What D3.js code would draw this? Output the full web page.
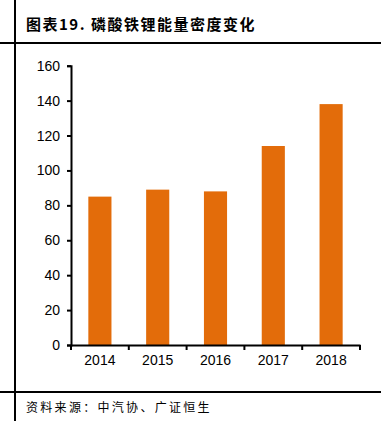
<!DOCTYPE html>
<html><head><meta charset="utf-8">
<script src="https://cdn.jsdelivr.net/npm/d3@7"></script>
<style>body{margin:0;background:#fff}svg{display:block}</style>
</head><body><svg id="c" width="387" height="426"></svg>
<script>
const categories = ["2014","2015","2016","2017","2018"];
const values = [85, 89, 88, 114, 138];
const yTicks = [0,20,40,60,80,100,120,140,160];
const title = "图表19.  磷酸铁锂能量密度变化";
const source = "资料来源：中汽协、广证恒生";

(function(){
const svg = d3.select("#c");
const mL = 71, mR = 360, mT = 65.7, mB = 345;
const x = d3.scaleBand().domain(categories).range([mL, mR]).paddingInner(0.6).paddingOuter(0.3);
const y = d3.scaleLinear().domain([0,160]).range([mB, mT]);

// frame lines
svg.append("line").attr("x1",15).attr("x2",15).attr("y1",0).attr("y2",421).attr("stroke","#000").attr("stroke-width",2);
svg.append("line").attr("x1",0).attr("x2",381).attr("y1",43).attr("y2",43).attr("stroke","#000").attr("stroke-width",2);
svg.append("line").attr("x1",0).attr("x2",381).attr("y1",392).attr("y2",392).attr("stroke","#000").attr("stroke-width",2);

svg.append("text").attr("x",26).attr("y",30).text(title)
  .attr("font-family","'Noto Sans CJK SC'").attr("font-weight","bold").attr("font-size",15).attr("letter-spacing",1.5).attr("fill","#000");
svg.append("text").attr("x",26).attr("y",412).text(source)
  .attr("font-family","'Noto Sans CJK SC'").attr("font-size",12).attr("letter-spacing",2.3).attr("fill","#000");

// bars
svg.selectAll("rect.bar").data(values).join("rect").attr("class","bar")
  .attr("x",(d,i)=>x(categories[i])).attr("width",x.bandwidth())
  .attr("y",d=>y(d)).attr("height",d=>mB-y(d)).attr("fill","#E36C0A");

// y axis
const ya = svg.append("g").attr("transform",`translate(${mL},0)`)
  .call(d3.axisLeft(y).tickValues(yTicks).tickSize(4).tickPadding(7));
ya.select(".domain").attr("stroke-width",2);
ya.selectAll(".tick line").attr("stroke-width",2);
ya.selectAll("text").attr("font-family","'Liberation Sans', Arial, sans-serif").attr("font-size",14).attr("fill","#000");

// x axis
const xa = svg.append("g").attr("transform",`translate(0,${mB})`)
  .call(d3.axisBottom(x).tickSize(0).tickPadding(10).tickSizeOuter(0));
xa.select(".domain").attr("stroke-width",2);
xa.selectAll("text").attr("font-family","'Liberation Sans', Arial, sans-serif").attr("font-size",14).attr("fill","#000");
const bounds = d3.range(categories.length+1).map(i => mL + i*(mR-mL)/categories.length);
xa.selectAll("line.sep").data(bounds).join("line").attr("class","sep")
  .attr("x1",d=>d).attr("x2",d=>d).attr("y1",0).attr("y2",5).attr("stroke","#000").attr("stroke-width",2);
})();
</script></body></html>
